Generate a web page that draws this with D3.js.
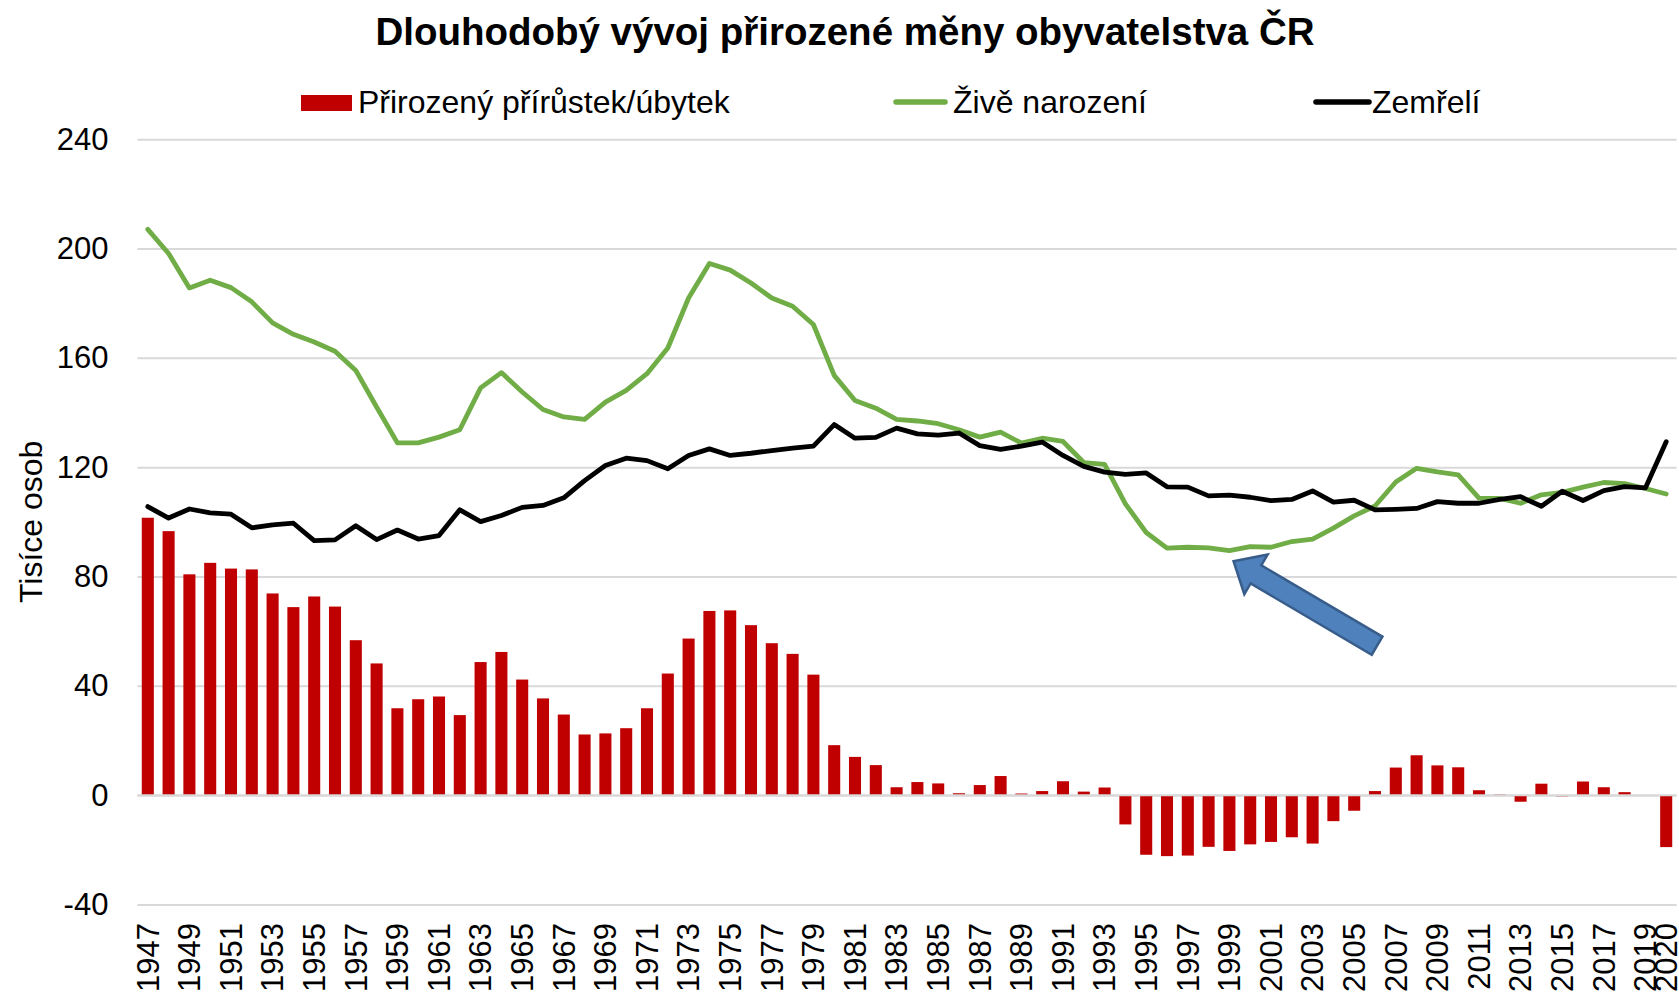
<!DOCTYPE html>
<html><head><meta charset="utf-8">
<script src="https://cdn.jsdelivr.net/npm/d3@7"></script>
<style>
html,body{margin:0;padding:0;background:#fff;}
svg{display:block;font-family:"Liberation Sans",Arial,Helvetica,sans-serif;}
</style></head><body>
<svg id="chart" width="1679" height="996"></svg>
<script>
const years = [1947,1948,1949,1950,1951,1952,1953,1954,1955,1956,1957,1958,1959,1960,1961,1962,1963,1964,1965,1966,1967,1968,1969,1970,1971,1972,1973,1974,1975,1976,1977,1978,1979,1980,1981,1982,1983,1984,1985,1986,1987,1988,1989,1990,1991,1992,1993,1994,1995,1996,1997,1998,1999,2000,2001,2002,2003,2004,2005,2006,2007,2008,2009,2010,2011,2012,2013,2014,2015,2016,2017,2018,2019,2020];

const naturalChange = [101.5,96.6,80.8,85.0,82.9,82.6,73.8,68.8,72.7,69.0,56.7,48.2,31.8,35.1,36.1,29.3,48.7,52.4,42.3,35.4,29.5,22.2,22.6,24.5,31.8,44.5,57.3,67.4,67.6,62.2,55.6,51.7,44.1,18.3,14.0,11.0,2.9,4.8,4.3,0.7,3.7,7.0,0.6,1.5,5.1,1.3,2.8,-10.7,-21.8,-22.3,-22.1,-18.9,-20.4,-18.0,-17.1,-15.4,-17.7,-9.5,-5.7,1.5,10.1,14.6,10.9,10.2,1.8,0.3,-2.4,4.2,-0.4,5.0,2.9,1.1,-0.1,-19.0];

const births = [207.0,198.2,185.6,188.4,185.7,180.5,172.8,168.6,165.8,162.4,155.4,142.0,128.9,128.9,131.0,133.7,149.0,154.6,147.5,141.1,138.4,137.5,143.8,148.1,154.2,163.6,181.9,194.5,192.1,187.4,181.9,178.9,172.2,153.6,144.4,141.6,137.5,136.9,135.9,133.7,131.0,132.8,128.8,130.6,129.4,121.7,121.0,106.6,96.1,90.4,90.7,90.5,89.5,90.9,90.7,92.8,93.7,97.7,102.2,105.8,114.6,119.6,118.3,117.2,108.7,108.6,106.8,109.9,110.8,112.7,114.4,114.0,112.2,110.2];

const deaths = [105.6,101.4,104.7,103.3,102.8,97.8,98.9,99.5,93.1,93.4,98.6,93.5,97.0,93.7,95.0,104.4,100.1,102.3,105.3,106.0,108.8,115.1,120.6,123.3,122.4,119.4,124.3,126.7,124.3,125.1,126.1,127.0,127.7,135.6,130.6,130.9,134.3,132.2,131.7,132.5,127.9,126.5,127.7,129.2,124.3,120.3,118.2,117.4,117.9,112.8,112.7,109.5,109.8,109.0,107.8,108.2,111.3,107.2,107.9,104.4,104.6,104.9,107.4,106.8,106.8,108.2,109.2,105.7,111.2,107.8,111.4,112.9,112.4,129.3];

const yTicks = [-40,0,40,80,120,160,200,240];
const yTickLabels = ["-40","0","40","80","120","160","200","240"];
const xTickYears = [1947,1949,1951,1953,1955,1957,1959,1961,1963,1965,1967,1969,1971,1973,1975,1977,1979,1981,1983,1985,1987,1989,1991,1993,1995,1997,1999,2001,2003,2005,2007,2009,2011,2013,2015,2017,2019,2020];
const seriesNames = ["Přirozený přírůstek/úbytek","Živě narození","Zemřelí"];
const seriesColors = ["#C00000","#70AD47","#000000"];
const titleText = "Dlouhodobý vývoj přirozené měny obyvatelstva ČR";
const yAxisTitle = "Tisíce osob";
const arrowTip = {year:1999.2, value:85.6};
const arrowTail = {year:2006.1, value:54.7};

const svg = d3.select("#chart");
const plot = {left:137.4, right:1676.6, top:139.2, bottom:904.5};

const x = d3.scaleBand().domain(years).range([plot.left, plot.right]).paddingInner(0.42).paddingOuter(0.21);
const y = d3.scaleLinear().domain([-40,240]).range([plot.bottom, plot.top]);
const cx = d => x(d) + x.bandwidth()/2;

// Title
svg.append("text").attr("x",845).attr("y",45).attr("text-anchor","middle")
  .attr("font-size","38.5px").attr("font-weight","bold").attr("fill","#000").text(titleText);

// Y axis with gridlines
const yAxis = svg.append("g").attr("transform",`translate(${plot.left},0)`)
  .call(d3.axisLeft(y).tickValues(yTicks).tickSize(-(plot.right-plot.left)).tickPadding(29)
    .tickFormat((d,i)=>yTickLabels[yTicks.indexOf(d)]));
yAxis.select(".domain").remove();
yAxis.selectAll(".tick line").attr("stroke","#D9D9D9").attr("stroke-width",2);
yAxis.selectAll(".tick text").attr("font-size","31px").attr("fill","#000").attr("font-family","Liberation Sans, Arial, sans-serif");

// Y axis title
svg.append("text").attr("transform",`translate(41.5,${(plot.top+plot.bottom)/2}) rotate(-90)`)
  .attr("text-anchor","middle").attr("font-size","32px").attr("fill","#000").text(yAxisTitle);

// X axis labels
const xAxis = svg.append("g").attr("transform",`translate(0,${plot.bottom})`)
  .call(d3.axisBottom(x).tickValues(xTickYears).tickSize(0));
xAxis.select(".domain").remove();
xAxis.selectAll(".tick text")
  .attr("transform","rotate(-90)").attr("x",-18.5).attr("y",0).attr("dy","0.35em")
  .style("text-anchor","end").attr("font-size","31px").attr("fill","#000").attr("font-family","Liberation Sans, Arial, sans-serif");

// Bars
svg.append("g").selectAll("rect").data(years.map((yr,i)=>({yr, v:naturalChange[i]}))).join("rect")
  .attr("x",d=>x(d.yr)).attr("width",x.bandwidth())
  .attr("y",d=>y(Math.max(0,d.v))).attr("height",d=>Math.abs(y(d.v)-y(0)))
  .attr("fill",seriesColors[0]);

// Zero line on top of bars
svg.append("line").attr("x1",plot.left).attr("x2",plot.right).attr("y1",y(0)).attr("y2",y(0))
  .attr("stroke","#D9D9D9").attr("stroke-width",2);

// Lines
const line = d3.line().x(d=>cx(d.yr)).y(d=>y(d.v));
[births, deaths].forEach((arr,k)=>{
  svg.append("path").datum(years.map((yr,i)=>({yr, v:arr[i]})))
    .attr("d",line).attr("fill","none").attr("stroke",seriesColors[k+1])
    .attr("stroke-width",4.8).attr("stroke-linejoin","round").attr("stroke-linecap","round");
});

// Arrow annotation
(function(){
  const step = x.step();
  const xl = yr => cx(years[0]) + (yr-years[0])*step;
  const tip = [xl(arrowTip.year), y(arrowTip.value)];
  const tail = [xl(arrowTail.year), y(arrowTail.value)];
  const dx = tip[0]-tail[0], dy = tip[1]-tail[1];
  const L = Math.hypot(dx,dy);
  const u = [dx/L, dy/L], n = [-u[1], u[0]];
  const w = 10.5, W = 23, H = 26;
  const p = (a,b) => [tail[0]+u[0]*a+n[0]*b, tail[1]+u[1]*a+n[1]*b];
  const pts = [p(0,w), p(L-H,w), p(L-H,W), tip, p(L-H,-W), p(L-H,-w), p(0,-w)];
  svg.append("path").attr("d","M"+pts.map(q=>q.join(",")).join("L")+"Z")
    .attr("fill","#4F81BD").attr("stroke","#385D8A").attr("stroke-width",2.5).attr("stroke-linejoin","miter");
})();

// Legend
const lg = svg.append("g");
lg.append("rect").attr("x",301).attr("y",95).attr("width",51).attr("height",16).attr("fill",seriesColors[0]);
lg.append("text").attr("x",358).attr("y",113).attr("font-size","32px").attr("fill","#000").text(seriesNames[0]);
lg.append("line").attr("x1",896).attr("x2",945).attr("y1",102).attr("y2",102).attr("stroke",seriesColors[1]).attr("stroke-width",5.5).attr("stroke-linecap","round");
lg.append("text").attr("x",953).attr("y",113).attr("font-size","32px").attr("fill","#000").text(seriesNames[1]);
lg.append("line").attr("x1",1316).attr("x2",1369).attr("y1",102).attr("y2",102).attr("stroke",seriesColors[2]).attr("stroke-width",5.5).attr("stroke-linecap","round");
lg.append("text").attr("x",1372).attr("y",113).attr("font-size","32px").attr("fill","#000").text(seriesNames[2]);
</script>
</body></html>
